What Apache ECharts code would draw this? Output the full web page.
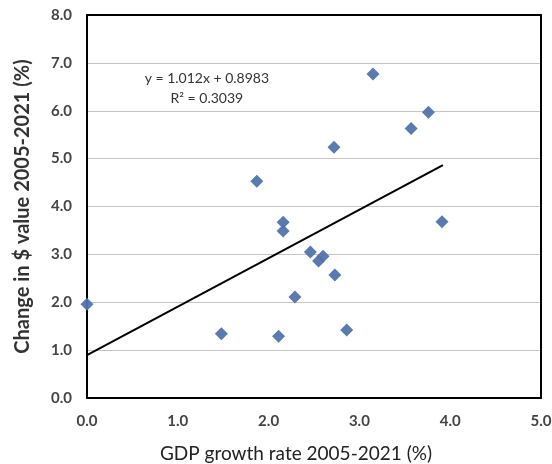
<!DOCTYPE html>
<html><head><meta charset="utf-8">
<script src="https://cdn.jsdelivr.net/npm/echarts@6/dist/echarts.min.js"></script>
<style>html,body{margin:0;padding:0;background:#fff}#c{width:552px;height:464px}</style>
</head><body><div id="c"></div>
<script>
var gdpGrowth = [3.15, 3.76, 3.57, 2.72, 1.87, 3.91, 2.16, 2.16, 2.46, 2.60, 2.55, 2.73, 2.29, 0.00, 1.48, 2.11, 2.86];
var valueChange = [6.77, 5.97, 5.63, 5.24, 4.53, 3.68, 3.67, 3.49, 3.05, 2.96, 2.86, 2.57, 2.11, 1.96, 1.34, 1.29, 1.42];
var trendX = [0, 3.92];
var trendY = [0.898, 4.865];
var xTicks = ['0.0','1.0','2.0','3.0','4.0','5.0'];
var yTicks = ['0.0','1.0','2.0','3.0','4.0','5.0','6.0','7.0','8.0'];
var eqLines = ['y = 1.012x + 0.8983', 'R² = 0.3039'];

var pts = gdpGrowth.map(function(x,i){return [x, valueChange[i]];});
var trend = trendX.map(function(x,i){return [x, trendY[i]];});
var font = 'Lato, "Open Sans", sans-serif';
var frame = {show:true,onZero:false,lineStyle:{color:'#000',width:2}};
var chart = echarts.init(document.getElementById('c'));
chart.setOption({
  animation:false,
  grid:{left:87,right:11,top:15,bottom:66,containLabel:false,outerBoundsMode:'none'},
  xAxis:[{type:'value',min:0,max:5,interval:1,position:'bottom',
    name:'GDP growth rate 2005-2021 (%)',nameLocation:'middle',nameGap:46,
    nameTextStyle:{fontFamily:font,fontSize:19,color:'#222',padding:[0,36,0,0]},
    axisLine:frame,axisTick:{show:false},splitLine:{show:false},
    axisLabel:{margin:16,fontFamily:font,fontSize:15,fontWeight:'bold',color:'#444',
      formatter:function(v){return xTicks[Math.round(v)];}}},
    {type:'value',min:0,max:5,position:'top',axisLine:frame,axisTick:{show:false},
      axisLabel:{show:false},splitLine:{show:false}}],
  yAxis:[{type:'value',min:0,max:8,interval:1,position:'left',
    name:'Change in $ value 2005-2021 (%)',nameLocation:'middle',nameGap:54,
    nameTextStyle:{fontFamily:font,fontSize:20,fontWeight:'bold',color:'#333'},
    axisLine:frame,axisTick:{show:false},
    splitLine:{show:true,showMinLine:false,showMaxLine:false,lineStyle:{color:'#c4c4c4',width:1.2}},
    axisLabel:{margin:15,fontFamily:font,fontSize:15,fontWeight:'bold',color:'#444',
      formatter:function(v){return yTicks[Math.round(v)];}}},
    {type:'value',min:0,max:8,position:'right',axisLine:frame,axisTick:{show:false},
      axisLabel:{show:false},splitLine:{show:false}}],
  series:[
    {type:'line',data:trend,symbol:'none',lineStyle:{color:'#000',width:2},z:3,
      markPoint:{symbol:'rect',symbolSize:0,
        data:[{coord:[1.32,6.47],label:{show:true,formatter:eqLines.join('\n'),
          fontFamily:font,fontSize:14,color:'#333',lineHeight:20,align:'center'}}]}},
    {type:'scatter',data:pts,symbol:'diamond',symbolSize:[13,13],
      itemStyle:{color:'#5273aa',opacity:0.95},z:4}
  ]
});
</script></body></html>
